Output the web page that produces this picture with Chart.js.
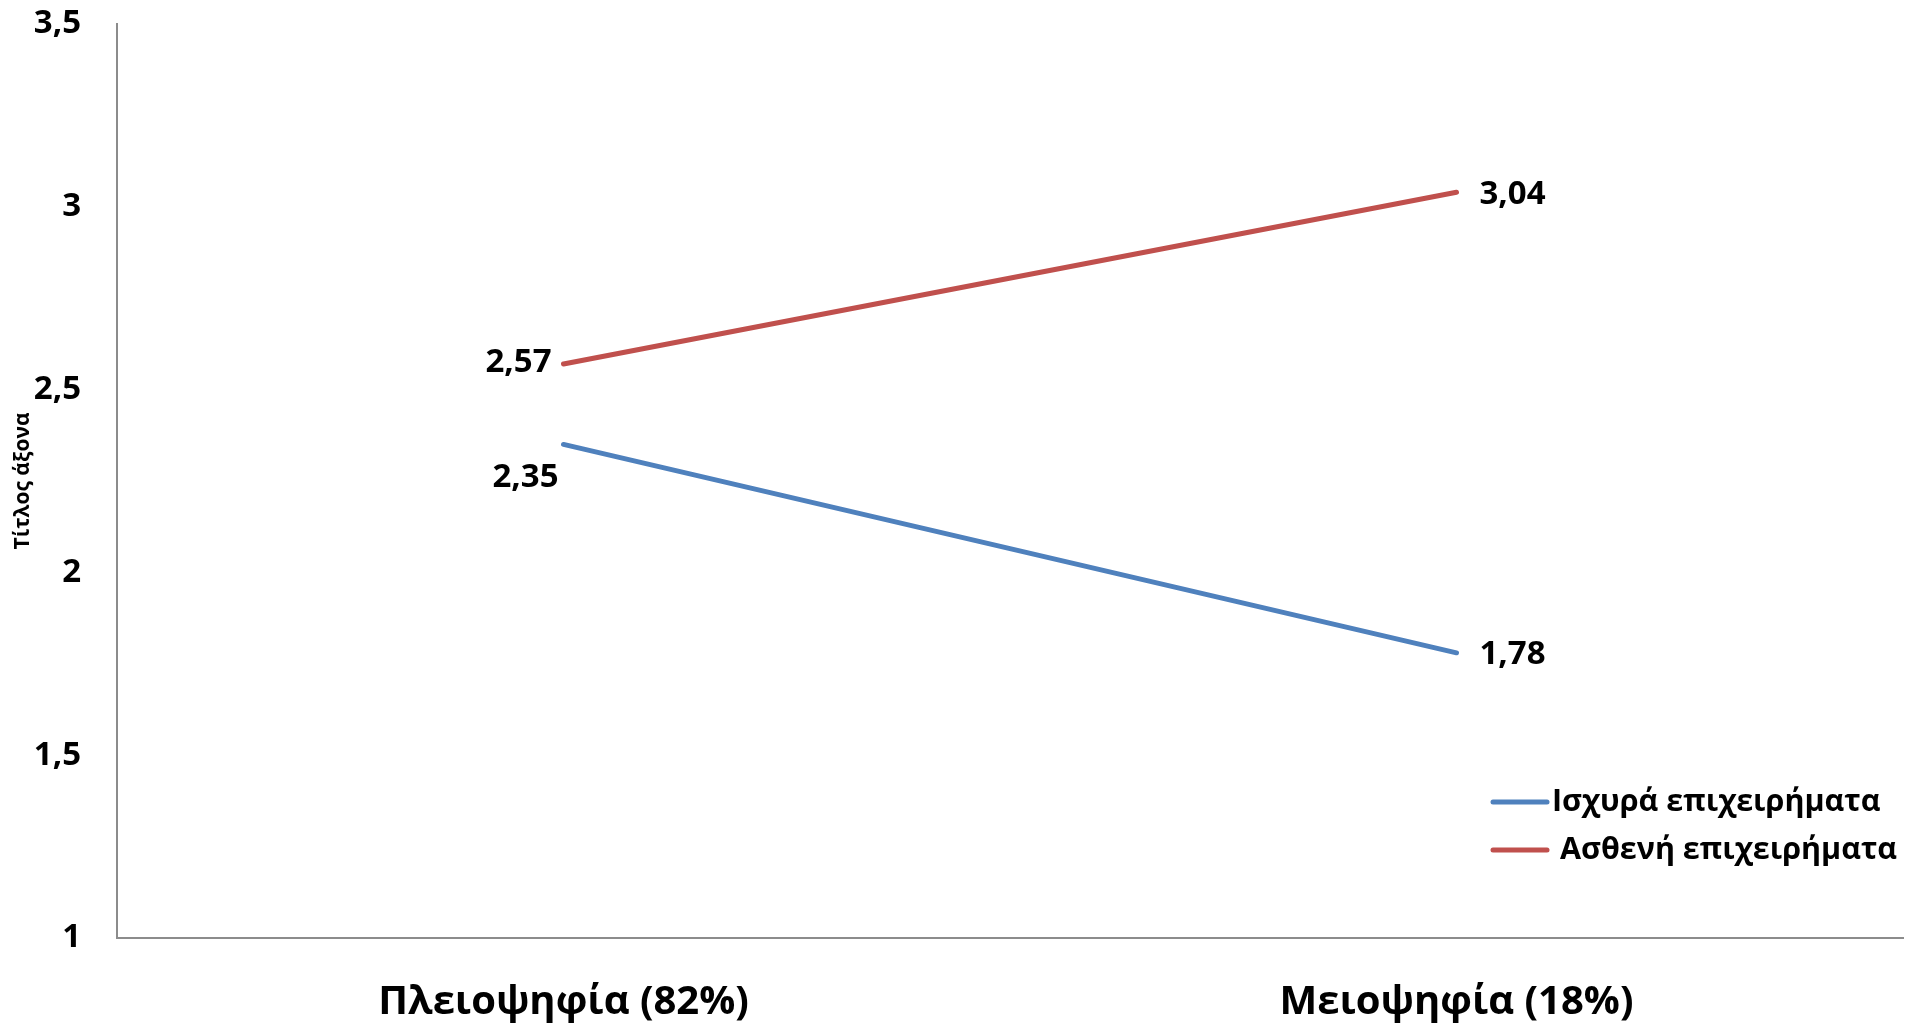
<!DOCTYPE html>
<html>
<head>
<meta charset="utf-8">
<script src="https://cdn.jsdelivr.net/npm/chart.js@4.4.0/dist/chart.umd.min.js"></script>
<style>
  html, body { margin: 0; padding: 0; background: #fff; }
  #wrap { position: relative; width: 1907px; height: 1025px; }
</style>
</head>
<body>
<div id="wrap"><canvas id="chart"></canvas></div>
<script>
// data
const categories = ['Πλειοψηφία (82%)', 'Μειοψηφία (18%)'];
const strongArgs = [2.35, 1.78];
const weakArgs = [2.57, 3.04];
const seriesNames = ['Ισχυρά επιχειρήματα', 'Ασθενή επιχειρήματα'];
const axisTitle = 'Τίτλος άξονα';

const FONT = '"Open Sans", "Noto Sans", sans-serif';
const fmt = v => String(v).replace('.', ',');

// value labels next to each point, offsets per dataset/point
const labelPlugin = {
    id: 'valueLabels',
    afterDatasetsDraw(chart) {
        const ctx = chart.ctx;
        ctx.save();
        ctx.font = 'bold 33px ' + FONT;
        ctx.fillStyle = '#000';
        ctx.textBaseline = 'middle';
        chart.data.datasets.forEach((ds, di) => {
            const meta = chart.getDatasetMeta(di);
            meta.data.forEach((pt, i) => {
                const txt = fmt(ds.data[i]);
                if (i === 0) {
                    if (di === 0) {
                        ctx.textAlign = 'center';
                        ctx.fillText(txt, pt.x - 38, pt.y + 33);
                    } else {
                        ctx.textAlign = 'right';
                        ctx.fillText(txt, pt.x - 12, pt.y - 1);
                    }
                } else {
                    ctx.textAlign = 'left';
                    ctx.fillText(txt, pt.x + 23, pt.y + 2);
                }
            });
        });
        ctx.restore();
    }
};

// legend inside the plot, bottom right
const legendPlugin = {
    id: 'innerLegend',
    afterDraw(chart) {
        const ctx = chart.ctx;
        const area = chart.chartArea;
        ctx.save();
        ctx.font = 'bold 30.5px ' + FONT;
        ctx.textBaseline = 'middle';
        ctx.textAlign = 'left';
        chart.data.datasets.forEach((ds, di) => {
            const y = area.bottom - 136 + di * 48;
            const x0 = area.right - 410;
            ctx.strokeStyle = ds.borderColor;
            ctx.lineWidth = 5;
            ctx.lineCap = 'round';
            ctx.beginPath();
            ctx.moveTo(x0, y);
            ctx.lineTo(x0 + 54, y);
            ctx.stroke();
            ctx.fillStyle = '#000';
            ctx.fillText(ds.label, x0 + 59 + di * 8, y);
        });
        ctx.restore();
    }
};

new Chart(document.getElementById('chart').getContext('2d'), {
    type: 'line',
    data: {
        labels: categories,
        datasets: [{
            label: seriesNames[0],
            data: strongArgs,
            borderColor: '#4F81BD',
            borderWidth: 5,
            borderCapStyle: 'round',
            pointRadius: 0,
            fill: false,
            tension: 0
        }, {
            label: seriesNames[1],
            data: weakArgs,
            borderColor: '#C0504D',
            borderWidth: 5,
            borderCapStyle: 'round',
            pointRadius: 0,
            fill: false,
            tension: 0
        }]
    },
    options: {
        responsive: true,
        maintainAspectRatio: false,
        animation: false,
        layout: { padding: { top: 24, right: 4, bottom: 0, left: 0 } },
        plugins: {
            legend: { display: false },
            tooltip: { enabled: false }
        },
        scales: {
            x: {
                offset: true,
                grid: { display: false, drawTicks: false },
                border: { display: true, color: '#8c8c8c', width: 2 },
                ticks: {
                    color: '#000',
                    font: { family: FONT, size: 40, weight: 'bold' },
                    padding: 41,
                    maxRotation: 0
                },
                afterFit(scale) {
                    scale.height = 87;
                    scale.paddingLeft = 0;
                    scale.paddingRight = 0;
                }
            },
            y: {
                min: 1,
                max: 3.5,
                grid: { display: false, drawTicks: false },
                border: { display: true, color: '#8c8c8c', width: 2 },
                ticks: {
                    stepSize: 0.5,
                    color: '#000',
                    font: { family: FONT, size: 33, weight: 'bold' },
                    padding: 36,
                    callback: v => fmt(v)
                },
                title: {
                    display: true,
                    text: axisTitle,
                    color: '#000',
                    font: { family: FONT, size: 21, weight: 'bold' },
                    padding: { top: 10, bottom: 0 }
                },
                afterFit(scale) {
                    scale.width = 117;
                    scale.paddingTop = 0;
                    scale.paddingBottom = 0;
                }
            }
        }
    },
    plugins: [labelPlugin, legendPlugin]
});
</script>
</body>
</html>
